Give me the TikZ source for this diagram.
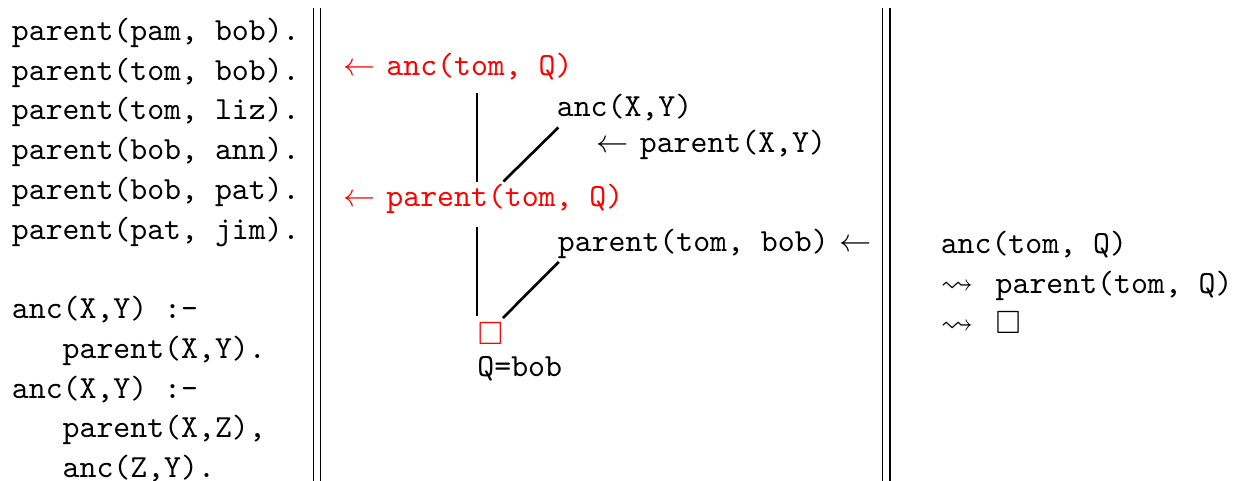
\documentclass[tikz,border=0pt]{standalone}
\usepackage{amssymb}

\tikzset{
  prog/.style={anchor=base west, inner sep=0pt, font=\fontsize{10.95}{13.5}\selectfont\ttfamily},
  clause/.style={anchor=base west, inner sep=0pt, font=\fontsize{10.95}{13.5}\selectfont},
  goal/.style={clause, text=red},
  branch/.style={line width=0.9pt},
  colrule/.style={double, double distance=2pt, line width=0.4pt},
}

\begin{document}
\begin{tikzpicture}
    \useasboundingbox (0,0) rectangle (14.82,-5.743);

    % program
    \node[prog] (program) at (0.136,-0.484) {\begin{tabular}[t]{@{}l@{}}
        parent(pam, bob).\\
        parent(tom, bob).\\
        parent(tom, liz).\\
        parent(bob, ann).\\
        parent(bob, pat).\\
        parent(pat, jim).\\
        \\
        anc(X,Y) :-\\
        ~~~parent(X,Y).\\
        anc(X,Y) :-\\
        ~~~parent(X,Z),\\
        ~~~anc(Z,Y).
    \end{tabular}};

    \draw[colrule] (3.789,-0.096) -- (3.789,-5.743);
    \draw[colrule] (10.585,-0.096) -- (10.585,-5.743);

    % SLD tree
    \node[goal] (g1) at (4.095,-0.896) {$\leftarrow$ \texttt{anc(tom, Q)}};
    \node[clause] (c1) at (6.643,-1.397) {\begin{tabular}[t]{@{}l@{}}
        \texttt{anc(X,Y)}\\[-1.3pt]
        \hspace*{13.6pt}$\leftarrow$ \texttt{parent(X,Y)}
    \end{tabular}};
    \node[goal] (g2) at (4.095,-2.472) {$\leftarrow$ \texttt{parent(tom, Q)}};
    \node[clause] (c2) at (6.656,-3.009) {\texttt{parent(tom, bob)} $\leftarrow$};
    \node[goal] (g3) at (5.701,-4.119) {$\Box$};
    \node[clause] (subst) at (5.695,-4.501) {\texttt{Q=bob}};

    \coordinate (g1-out) at (5.695,-1.110);
    \coordinate (g2-in) at (5.695,-2.173);
    \coordinate (c1-out) at (6.668,-1.522);
    \coordinate (g2-side) at (6.012,-2.167);
    \coordinate (g2-out) at (5.695,-2.710);
    \coordinate (g3-in) at (5.695,-3.773);
    \coordinate (c2-out) at (6.674,-3.128);
    \coordinate (g3-side) at (6.006,-3.797);

    \draw[branch] (g1-out) -- (g2-in);
    \draw[branch] (c1-out) -- (g2-side);
    \draw[branch] (g2-out) -- (g3-in);
    \draw[branch] (c2-out) -- (g3-side);

    % derivation
    \node[prog] (deriv) at (11.228,-3.033) {\begin{tabular}[t]{@{}l@{}}
        anc(tom, Q)\\
        $\leadsto$\hspace{7.7pt}parent(tom, Q)\\
        $\leadsto$\hspace{7.7pt}$\Box$
    \end{tabular}};
\end{tikzpicture}
\end{document}
